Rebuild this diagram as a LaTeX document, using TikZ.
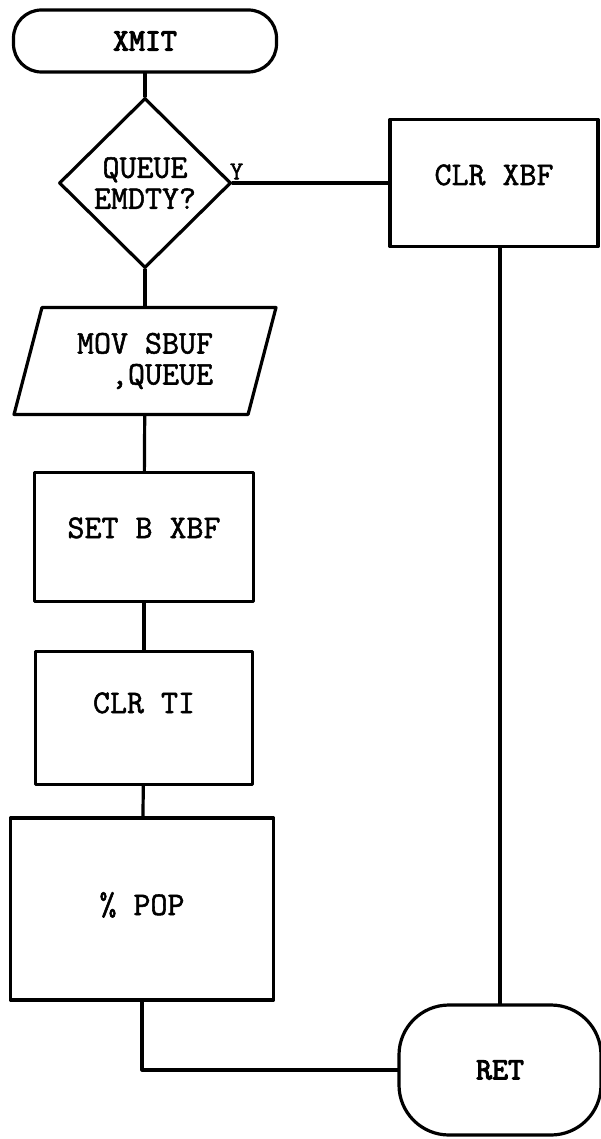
\documentclass[tikz,border=0pt]{standalone}
\usepackage{fontspec}
\usetikzlibrary{shapes.geometric}
\newfontfamily\typefont[FakeBold=1.6]{Latin Modern Mono}
\newfontfamily\termfont[FakeBold=3.5]{Latin Modern Mono}
\begin{document}
\begin{tikzpicture}[x=1pt,y=-1pt,line join=round,line cap=round,line width=3.2pt,
font=\typefont\fontsize{33}{31}\selectfont,
term/.style={draw,rounded corners=#1,font=\termfont\fontsize{31}{29}\selectfont},
box/.style={draw,inner sep=0pt},
up/.style={text height=20pt,text depth=#1},
dec/.style={draw,diamond,inner sep=0pt,minimum width=172,minimum height=170,align=center},
io/.style={draw,trapezium,trapezium left angle=66,trapezium right angle=114,
  trapezium stretches body,minimum width=262,minimum height=107,align=right}]
\useasboundingbox (0,0) rectangle (601,1139);
\path
(145,41) node[term=28,minimum width=263,minimum height=62] (xmit) {XMIT}
(145,183) node[dec] (queue) {QUEUE\\EMDTY?}
(145,361) node[io] (mov) {MOV SBUF\\,QUEUE}
(144,537) node[box,up=18pt,minimum width=219,minimum height=129] (setb) {SET B XBF}
(144,718) node[box,up=30pt,minimum width=217,minimum height=133] (clrti) {CLR TI}
(142,909) node[box,up=8pt,minimum width=263,minimum height=182] (pop) {\% POP}
(494,183) node[box,up=16pt,minimum width=208,minimum height=127] (clrx) {CLR XBF}
(500,1070) node[term=50,minimum width=202,minimum height=130] (ret) {RET};
\path (queue.east) node[above,xshift=4,inner sep=2pt,font=\typefont\fontsize{26}{26}\selectfont] (yes) {Y};
\draw (xmit) -- (queue);
\draw (queue) -- (mov);
\draw (mov) -- (setb);
\draw (setb) -- (clrti);
\draw (clrti) -- (pop);
\draw (queue.east) -- (clrx.west); % Y
\draw (ret.north) -- (ret.north |- clrx.south);
\draw (pop.south) |- (ret.west);
\end{tikzpicture}
\end{document}
